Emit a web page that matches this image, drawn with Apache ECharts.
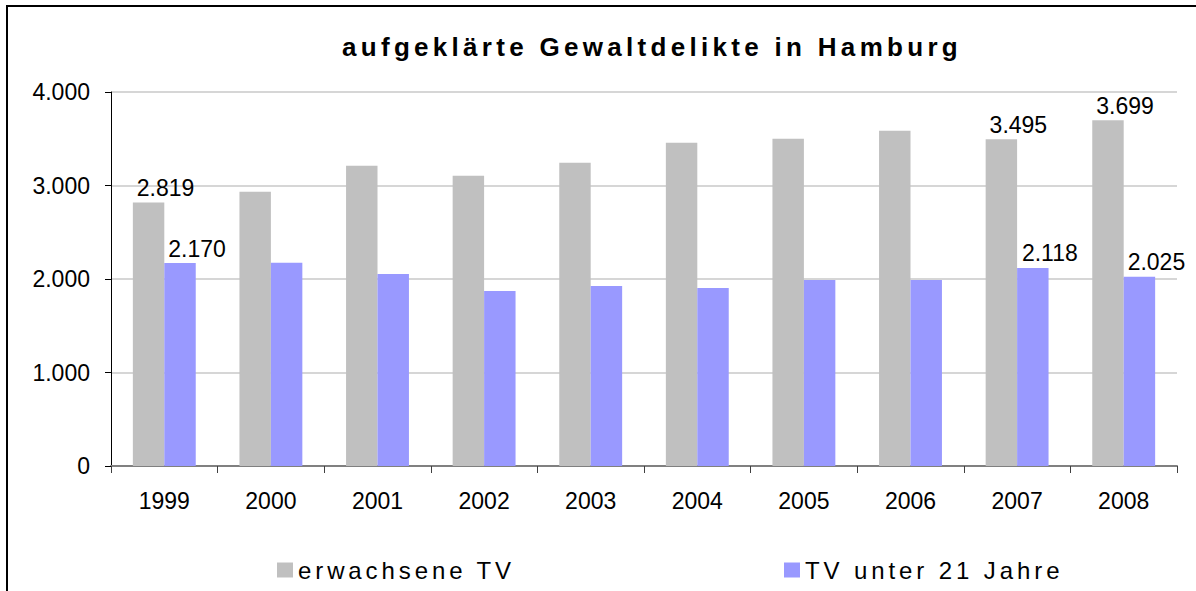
<!DOCTYPE html>
<html lang="de">
<head>
  <meta charset="UTF-8">
  <title>aufgeklärte Gewaltdelikte in Hamburg</title>
  <script src="https://cdn.jsdelivr.net/npm/echarts@6/dist/echarts.min.js"></script>
  <style>
    html, body { margin: 0; padding: 0; background: #fff; }
    #chart { width: 1196px; height: 591px; }
    /* Sperrschrift für Titel und Legende (svg renderer) */
    #chart svg text[style*="bold"] { letter-spacing: 4.3px; }
    #chart svg text[style*="24px"]:not([style*="bold"]) { letter-spacing: 3.9px; }
  </style>
</head>
<body>
  <div id="chart"></div>
  <script>
    const years = ['1999', '2000', '2001', '2002', '2003', '2004', '2005', '2006', '2007', '2008'];
    const erwachsene = [2819, 2932, 3210, 3103, 3243, 3457, 3500, 3585, 3495, 3699];
    const unter21 = [2170, 2175, 2053, 1871, 1925, 1904, 1990, 1990, 2118, 2025];
    const labeledIdx = [0, 8, 9];   // nur diese Werte sind beschriftet
    const yTicks = { min: 0, max: 4000, interval: 1000 };

    const font = 'Liberation Sans, Arial, sans-serif';
    const fmt = v => String(v).replace(/\B(?=(\d{3})+(?!\d))/g, '.');

    const withLabels = arr => arr.map((v, i) => labeledIdx.includes(i)
      ? { value: v, label: { show: true } }
      : v);

    const barLabel = {
      show: false,
      position: 'top',
      distance: 3,
      offset: [17, 0],
      color: '#000',
      fontSize: 23,
      fontFamily: font,
      formatter: p => fmt(p.value)
    };

    const chart = echarts.init(document.getElementById('chart'), null, { renderer: 'svg' });
    chart.setOption({
      animation: false,
      backgroundColor: '#fff',
      title: {
        text: 'aufgeklärte Gewaltdelikte in Hamburg',
        left: 652,
        top: 34,
        padding: 0,
        textAlign: 'center',
        textStyle: { fontSize: 26, fontWeight: 'bold', color: '#000', fontFamily: font }
      },
      legend: [
        {
          data: ['erwachsene TV'],
          left: 277, top: 558, padding: 0,
          itemWidth: 16, itemHeight: 15,
          icon: 'rect',
          textStyle: { fontSize: 24, color: '#000', fontFamily: font }
        },
        {
          data: ['TV unter 21 Jahre'],
          left: 784, top: 558, padding: 0,
          itemWidth: 16, itemHeight: 15,
          icon: 'rect',
          textStyle: { fontSize: 24, color: '#000', fontFamily: font }
        }
      ],
      grid: { left: 111, right: 19, top: 92, bottom: 125, containLabel: false, outerBoundsMode: 'none' },
      xAxis: {
        type: 'category',
        data: years,
        boundaryGap: true,
        axisLine: { show: true, lineStyle: { color: '#808080', width: 2 } },
        axisTick: { show: true, length: 7, alignWithLabel: false, lineStyle: { color: '#404040', width: 1 } },
        axisLabel: { fontSize: 23, color: '#000', fontFamily: font, margin: 23 },
        splitLine: { show: false }
      },
      yAxis: {
        type: 'value',
        min: yTicks.min,
        max: yTicks.max,
        interval: yTicks.interval,
        axisLine: { show: true, lineStyle: { color: '#000', width: 1 } },
        axisTick: { show: true, length: 6, lineStyle: { color: '#000' } },
        axisLabel: { fontSize: 23, color: '#000', fontFamily: font, margin: 21, formatter: fmt },
        splitLine: { show: true, lineStyle: { color: '#c8c8c8', width: 1.5 } }
      },
      series: [
        {
          name: 'erwachsene TV',
          type: 'bar',
          data: withLabels(erwachsene),
          itemStyle: { color: '#C0C0C0' },
          barGap: '0%',
          barCategoryGap: '41%',
          label: barLabel
        },
        {
          name: 'TV unter 21 Jahre',
          type: 'bar',
          data: withLabels(unter21),
          itemStyle: { color: '#9999FF' },
          barGap: '0%',
          barCategoryGap: '41%',
          label: barLabel
        }
      ],
      graphic: [{
        type: 'polyline',
        silent: true,
        shape: { points: [[7, 591], [7, 6], [1196, 6]] },
        style: { stroke: '#000', lineWidth: 2, fill: null }
      }]
    });
  </script>
</body>
</html>
